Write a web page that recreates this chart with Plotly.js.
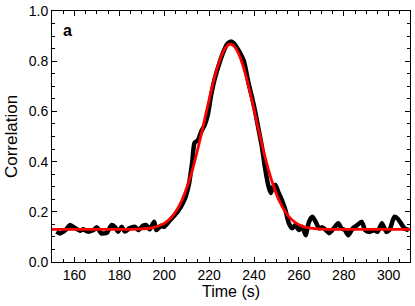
<!DOCTYPE html>
<html>
<head>
<meta charset="utf-8">
<script src="https://cdn.plot.ly/plotly-3.0.1.min.js"></script>
<style>html,body{margin:0;padding:0;background:#fff;}#chart{width:415px;height:306px;}</style>
</head>
<body>
<div id="chart"></div>
<script>
// Measured correlation (black)
const timeData = [152,153.5,156,158,160.5,162.5,164,166,168.5,170,172,174.5,176.5,178,179.5,181,182.5,184.5,187,188.5,190.5,192,193.5,195.5,196.5,198.5,200,202,204,206,209,211,212.5,213.5,215,216.5,218,219.5,221,222.5,224.5,226.5,228,229.5,231,233,235.5,237.5,239,240.5,242,243.5,245,246.5,247.5,248.5,249.5,251,252.5,254,255.5,257,258.5,260,261.5,263,264.5,266,267.5,269,270.5,272,273.5,275.5,277.5,279,280.5,282,284,286,288,289.5,291.5,293.5,295,297,299,300.5,302.5,304,305.5,307,309];
const corrData = [0.121,0.114,0.127,0.147,0.134,0.125,0.13,0.121,0.127,0.138,0.114,0.117,0.147,0.14,0.121,0.14,0.121,0.134,0.14,0.127,0.144,0.147,0.13,0.16,0.127,0.144,0.14,0.16,0.18,0.2,0.247,0.31,0.40,0.475,0.485,0.52,0.545,0.59,0.67,0.73,0.79,0.84,0.868,0.878,0.872,0.845,0.8,0.715,0.66,0.6,0.53,0.46,0.37,0.3,0.275,0.3,0.307,0.275,0.245,0.207,0.155,0.134,0.147,0.127,0.14,0.107,0.16,0.18,0.16,0.134,0.138,0.127,0.115,0.134,0.154,0.134,0.127,0.107,0.134,0.147,0.16,0.127,0.12,0.127,0.12,0.154,0.12,0.13,0.18,0.173,0.154,0.134,0.127];

// Gaussian fit (red)
const fitTime = [150,160,170,180,190,195,200,202.5,205,207.5,210,212.5,215,217.5,220,222.5,225,227.5,229.5,231.5,234,236.5,239,241.5,244,246.5,249,251.5,254,256.5,259,262,265,270,280,290,300,310];
const fitCorr = [0.130,0.130,0.130,0.130,0.132,0.137,0.154,0.171,0.199,0.239,0.295,0.365,0.452,0.548,0.647,0.738,0.811,0.856,0.868,0.856,0.811,0.738,0.647,0.548,0.452,0.365,0.295,0.239,0.199,0.171,0.154,0.141,0.135,0.131,0.130,0.130,0.130,0.130];

const xTicks = [160,180,200,220,240,260,280,300];
const yTicks = [0.0,0.2,0.4,0.6,0.8,1.0];
const yTickText = ['0.0','0.2','0.4','0.6','0.8','1.0'];

const FONT = 'Liberation Sans, Arial, Helvetica, sans-serif';

const traces = [
  {x: timeData, y: corrData, mode: 'lines', line: {color: '#000000', width: 4.5, shape: 'spline', smoothing: 0.6}, hoverinfo: 'skip'},
  {x: fitTime, y: fitCorr, mode: 'lines', line: {color: '#ff0000', width: 2.8, shape: 'spline', smoothing: 1}, hoverinfo: 'skip'}
];

const axisCommon = {
  showline: true, linecolor: '#000', linewidth: 1, mirror: 'ticks',
  ticks: 'inside', ticklen: 5, tickwidth: 1, tickcolor: '#000',
  showgrid: false, zeroline: false,
  tickfont: {family: FONT, size: 14, color: '#000'}
};

const layout = {
  width: 415, height: 306,
  margin: {l: 52, r: 5, t: 11, b: 44},
  paper_bgcolor: '#fff', plot_bgcolor: '#fff',
  showlegend: false,
  font: {family: FONT, color: '#000'},
  xaxis: Object.assign({}, axisCommon, {
    range: [150, 309.5], tickvals: xTicks,
    minor: {dtick: 5, tick0: 150, ticklen: 3, ticks: 'inside', tickcolor: '#000', showgrid: false},
    title: {text: 'Time (s)', font: {family: FONT, size: 16, color: '#000'}, standoff: 4}
  }),
  yaxis: Object.assign({}, axisCommon, {
    range: [0, 1.0], tickvals: yTicks, ticktext: yTickText,
    minor: {dtick: 0.05, tick0: 0, ticklen: 3, ticks: 'inside', tickcolor: '#000', showgrid: false},
    title: {text: 'Correlation', font: {family: FONT, size: 17, color: '#000'}, standoff: 6}
  }),
  annotations: [{
    xref: 'paper', yref: 'paper', x: 0.043, y: 0.924, text: '<b>a</b>', showarrow: false,
    font: {family: FONT, size: 16, color: '#000'}, xanchor: 'center', yanchor: 'middle'
  }]
};

Plotly.newPlot('chart', traces, layout, {displayModeBar: false, staticPlot: true});
</script>
</body>
</html>
